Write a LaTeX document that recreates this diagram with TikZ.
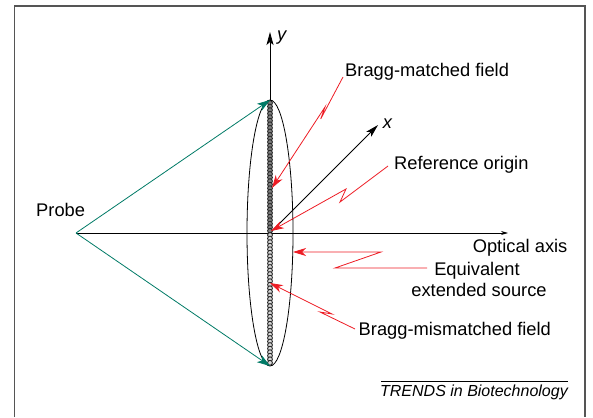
\documentclass[tikz,border=0pt]{standalone}
\usepackage{fontspec}
\setmainfont{Liberation Sans}
\usetikzlibrary{arrows.meta}
\definecolor{redl}{RGB}{237,28,36}
\definecolor{tealc}{RGB}{0,122,102}
\definecolor{framec}{RGB}{85,85,85}
\begin{document}
\begin{tikzpicture}[x=1pt,y=-1pt,
  lbl/.style={font=\fontsize{18.3}{21}\selectfont, inner sep=0pt},
  leader/.style={draw=redl, line width=0.8pt, -{Stealth[length=13pt,width=8pt,inset=4pt]}},
  probearrow/.style={draw=tealc, line width=0.8pt, -{Stealth[length=13pt,width=8.5pt,inset=3.5pt]}},
  axisarrow/.style={draw=black, line width=0.8pt, -{Stealth[length=13pt,width=7pt,inset=3pt]}},
  beadA/.style={draw=black!85, fill=black!50, line width=0.9pt},
  beadB/.style={draw=black!85, fill=black!15, line width=0.9pt},
]
\useasboundingbox (0,0) rectangle (593,417);
% frame
\draw[framec, line width=1.5pt] (14.5,417) -- (14.5,6) -- (585,6) -- (585,417);
% key points
\coordinate (P) at (76,233);
\coordinate (O) at (270,233);
\coordinate (T) at (270,100);
\coordinate (B) at (270,366);
\coordinate (Y) at (270,32);
\coordinate (X) at (378,125);
\coordinate (OA) at (508,233);
% axes
\draw[line width=0.8pt, -{Stealth[length=7pt,width=4pt]}] (P) -- (OA);
\draw[axisarrow] (O) -- (Y);
\draw[axisarrow] (O) -- (X);
% extended source
\foreach \i in {0,...,36} { \draw[beadA] (270,{103+\i*3.55}) circle[radius=2.4]; }
\foreach \i in {0,...,36} { \draw[beadB] (270,{235+\i*3.55}) circle[radius=2.4]; }
\draw[line width=0.8pt] (O) ellipse [x radius=23, y radius=133];
% probe arrows
\draw[probearrow] (P) -- (T);
\draw[probearrow] (P) -- (B);
% labels
\node[lbl, anchor=base west] (probe) at (36,216.5) {Probe};
\node[lbl, anchor=base west] (bmf) at (345,77) {Bragg-matched field};
\node[lbl, anchor=base west] (ro) at (394,169) {Reference origin};
\node[lbl, anchor=base west] (oa) at (472.6,252) {Optical axis};
\node[lbl, anchor=base] (eq1) at (477,275) {Equivalent};
\node[lbl, anchor=base] (eq2) at (479,296) {extended source};
\node[lbl, anchor=base west] (bmm) at (358.5,335) {Bragg-mismatched field};
\node[lbl, anchor=base west, font=\fontsize{18.3}{21}\selectfont\itshape] (ylab) at (277,41) {y};
\node[lbl, anchor=base west, font=\fontsize{18.3}{21}\selectfont\itshape] (xlab) at (382.7,128) {x};
\node[anchor=base east, inner sep=0pt, font=\fontsize{16}{19}\selectfont\itshape] (tr) at (568,396) {TRENDS in Biotechnology};
\coordinate (trL) at (381,381);
\coordinate (trR) at (568,381);
\draw[line width=0.6pt] (trL) -- (trR);
% leaders
\coordinate (m1a) at (320.7,119); \coordinate (m1b) at (325,107); \coordinate (m1e) at (272,188);
\draw[leader] (343,77) -- (m1a) -- (m1b) -- (m1e);
\coordinate (m2a) at (340,202); \coordinate (m2b) at (346,189); \coordinate (m2e) at (271,231);
\draw[leader] (388,166) -- (m2a) -- (m2b) -- (m2e);
\coordinate (m3a) at (335,268); \coordinate (m3b) at (381,252); \coordinate (m3e) at (293,252);
\draw[leader] (427,268) -- (m3a) -- (m3b) -- (m3e);
\coordinate (m4a) at (320,312); \coordinate (m4b) at (332,314); \coordinate (m4e) at (270,283);
\draw[leader] (355,329) -- (m4a) -- (m4b) -- (m4e);
\end{tikzpicture}
\end{document}
